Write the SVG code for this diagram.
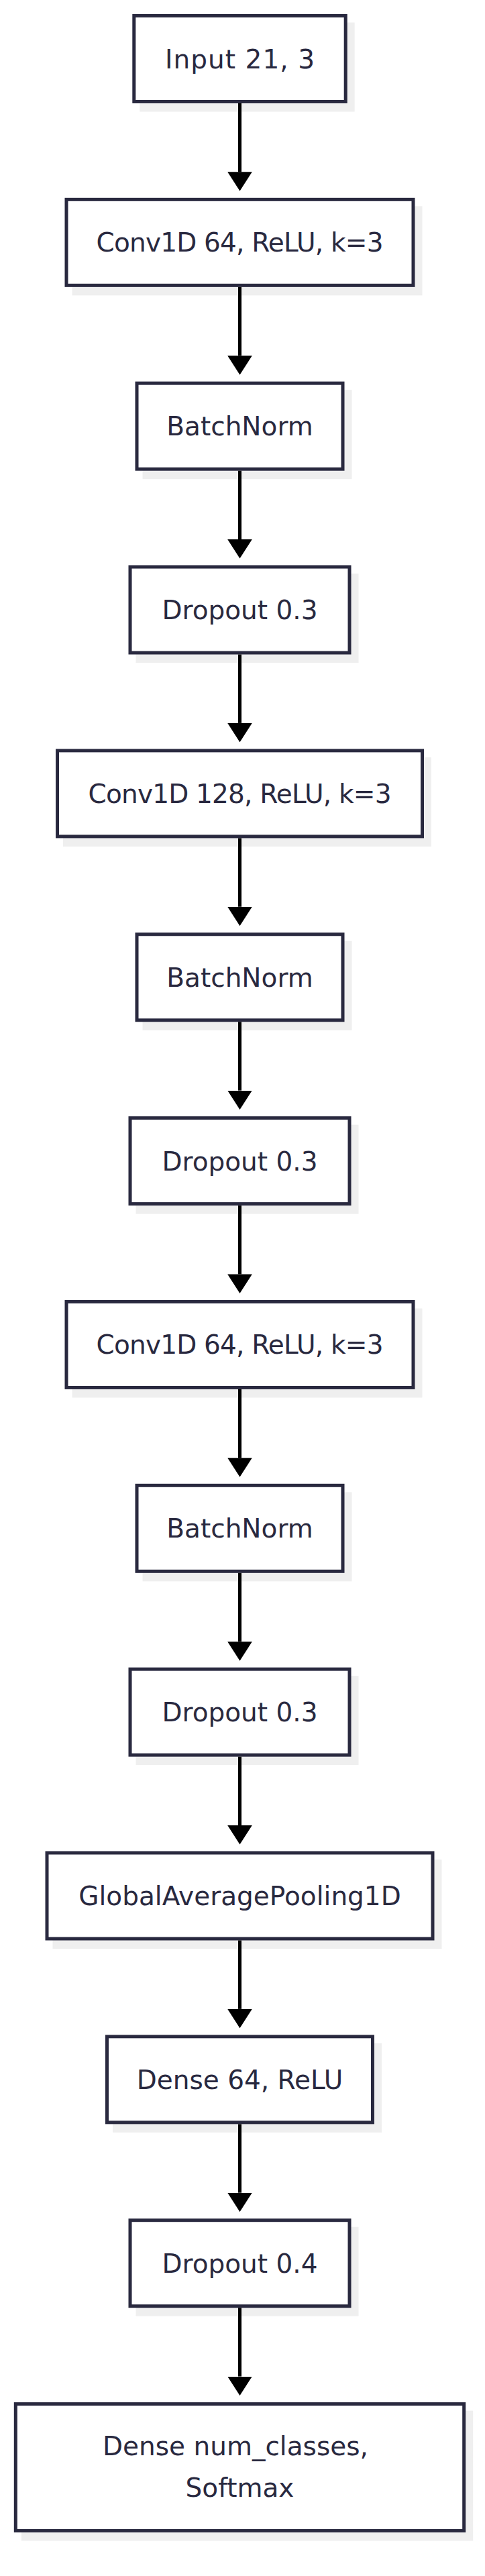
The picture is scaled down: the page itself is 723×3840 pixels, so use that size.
<svg xmlns="http://www.w3.org/2000/svg" width="723" height="3840" viewBox="0 0 723 3840">
<defs>
<style>
.sh{fill:#efefef}
.bx{fill:#ffffff;stroke:#29293f;stroke-width:5}
.lb{font-family:"DejaVu Sans","Liberation Sans",sans-serif;font-size:39px;fill:#29293f;text-anchor:middle}
.ed{fill:none;stroke:#000000;stroke-width:5}
</style>
<marker id="ah" viewBox="0 0 28.5 36.6" refX="0" refY="18.3" markerWidth="28.5" markerHeight="36.6" markerUnits="userSpaceOnUse" orient="auto">
<path d="M0,0 L28.5,18.3 L0,36.6 Z" fill="#000000"/>
</marker>
</defs>
<rect width="723" height="3840" fill="#ffffff"/>
<g id="nodes">
<g id="n0"><rect class="sh" x="208.3" y="33.5" width="320.4" height="133"/><rect class="bx" x="199.8" y="23.5" width="315.4" height="128"/><text class="lb" x="357.5" y="101.5" textLength="223">Input 21, 3</text></g>
<g id="n1"><rect class="sh" x="107.5" y="307.35" width="522" height="133"/><rect class="bx" x="99" y="297.35" width="517" height="128"/><text class="lb" x="357.5" y="375.35" textLength="428">Conv1D 64, ReLU, k=3</text></g>
<g id="n2"><rect class="sh" x="212.5" y="581.2" width="312" height="133"/><rect class="bx" x="204" y="571.2" width="307" height="128"/><text class="lb" x="357.5" y="649.2">BatchNorm</text></g>
<g id="n3"><rect class="sh" x="202.5" y="855.05" width="332" height="133"/><rect class="bx" x="194" y="845.05" width="327" height="128"/><text class="lb" x="357.5" y="923.05">Dropout 0.3</text></g>
<g id="n4"><rect class="sh" x="94" y="1128.9" width="549" height="133"/><rect class="bx" x="85.5" y="1118.9" width="544" height="128"/><text class="lb" x="357.5" y="1196.9" textLength="452">Conv1D 128, ReLU, k=3</text></g>
<g id="n5"><rect class="sh" x="212.5" y="1402.75" width="312" height="133"/><rect class="bx" x="204" y="1392.75" width="307" height="128"/><text class="lb" x="357.5" y="1470.75">BatchNorm</text></g>
<g id="n6"><rect class="sh" x="202.5" y="1676.6" width="332" height="133"/><rect class="bx" x="194" y="1666.6" width="327" height="128"/><text class="lb" x="357.5" y="1744.6">Dropout 0.3</text></g>
<g id="n7"><rect class="sh" x="107.5" y="1950.45" width="522" height="133"/><rect class="bx" x="99" y="1940.45" width="517" height="128"/><text class="lb" x="357.5" y="2018.45" textLength="428">Conv1D 64, ReLU, k=3</text></g>
<g id="n8"><rect class="sh" x="212.5" y="2224.3" width="312" height="133"/><rect class="bx" x="204" y="2214.3" width="307" height="128"/><text class="lb" x="357.5" y="2292.3">BatchNorm</text></g>
<g id="n9"><rect class="sh" x="202.5" y="2498.15" width="332" height="133"/><rect class="bx" x="194" y="2488.15" width="327" height="128"/><text class="lb" x="357.5" y="2566.15">Dropout 0.3</text></g>
<g id="n10"><rect class="sh" x="78.5" y="2772" width="580" height="133"/><rect class="bx" x="70" y="2762" width="575" height="128"/><text class="lb" x="357.5" y="2840">GlobalAveragePooling1D</text></g>
<g id="n11"><rect class="sh" x="168" y="3045.85" width="401" height="133"/><rect class="bx" x="159.5" y="3035.85" width="396" height="128"/><text class="lb" x="357.5" y="3113.85">Dense 64, ReLU</text></g>
<g id="n12"><rect class="sh" x="202.5" y="3319.7" width="332" height="133"/><rect class="bx" x="194" y="3309.7" width="327" height="128"/><text class="lb" x="357.5" y="3387.7">Dropout 0.4</text></g>
<g id="n13"><rect class="sh" x="31.8" y="3593.55" width="673.4" height="194"/><rect class="bx" x="23.3" y="3583.55" width="668.4" height="189"/><text class="lb" x="351" y="3660">Dense num_classes,</text><text class="lb" x="357.5" y="3721.7">Softmax</text></g>
</g>
<g id="edges">
<path class="ed" marker-end="url(#ah)" d="M357.5,154 L357.5,256.35"/>
<path class="ed" marker-end="url(#ah)" d="M357.5,427.85 L357.5,530.2"/>
<path class="ed" marker-end="url(#ah)" d="M357.5,701.7 L357.5,804.05"/>
<path class="ed" marker-end="url(#ah)" d="M357.5,975.55 L357.5,1077.9"/>
<path class="ed" marker-end="url(#ah)" d="M357.5,1249.4 L357.5,1351.75"/>
<path class="ed" marker-end="url(#ah)" d="M357.5,1523.25 L357.5,1625.6"/>
<path class="ed" marker-end="url(#ah)" d="M357.5,1797.1 L357.5,1899.45"/>
<path class="ed" marker-end="url(#ah)" d="M357.5,2070.95 L357.5,2173.3"/>
<path class="ed" marker-end="url(#ah)" d="M357.5,2344.8 L357.5,2447.15"/>
<path class="ed" marker-end="url(#ah)" d="M357.5,2618.65 L357.5,2721"/>
<path class="ed" marker-end="url(#ah)" d="M357.5,2892.5 L357.5,2994.85"/>
<path class="ed" marker-end="url(#ah)" d="M357.5,3166.35 L357.5,3268.7"/>
<path class="ed" marker-end="url(#ah)" d="M357.5,3440.2 L357.5,3542.55"/>
</g>
</svg>
